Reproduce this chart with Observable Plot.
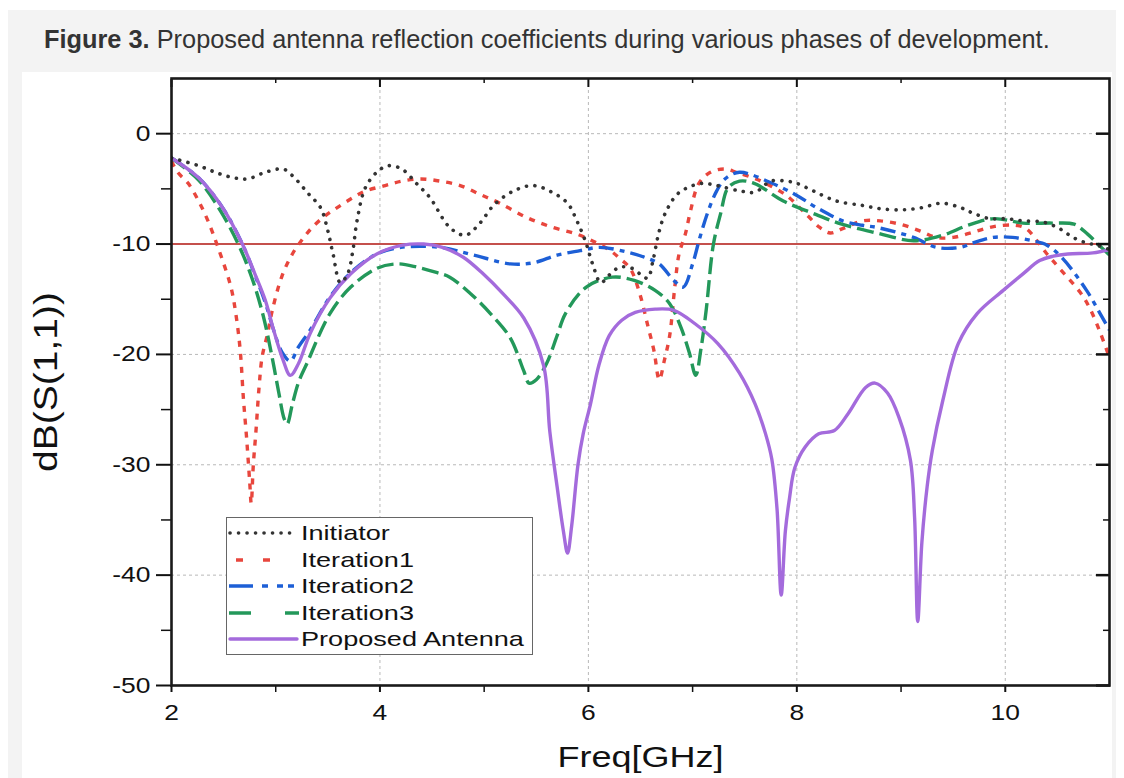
<!DOCTYPE html>
<html>
<head>
<meta charset="utf-8">
<script src="https://cdn.jsdelivr.net/npm/d3@7"></script>
<script src="https://cdn.jsdelivr.net/npm/@observablehq/plot@0.6"></script>
<style>
  html, body { margin: 0; padding: 0; background: #ffffff; }
  body { width: 1124px; height: 778px; position: relative; overflow: hidden; font-family: "Liberation Sans", Arial, sans-serif; }
  #panel { position: absolute; left: 8px; top: 10px; width: 1108px; height: 768px; background: #f3f3f3; }
  #title { position: absolute; left: 44px; top: 24px; font-size: 26px; line-height: 30px; color: #333; white-space: nowrap; transform: scaleX(0.975); transform-origin: left center; }
  #title b { font-weight: bold; }
  #chart { position: absolute; left: 22px; top: 72px; width: 1090px; height: 706px; background: #fff; }
  #legend { position: absolute; left: 226px; top: 517px; width: 305px; height: 134px; border: 1.5px solid #666; background: #fff; padding-top: 2px; box-sizing: content-box; }
  .row { height: 26.5px; display: flex; align-items: center; }
  .row svg { flex: none; }
  .row span { font-size: 21px; color: #111; transform: scaleX(1.29); transform-origin: left center; display: inline-block; white-space: nowrap; margin-left: 2px; }
</style>
</head>
<body>
<div id="panel"></div>
<div id="title"><b>Figure 3.</b> Proposed antenna reflection coefficients during various phases of development.</div>
<div id="chart"></div>
<div id="legend"></div>
<script>
// Return loss |S11| in dB against frequency in GHz for each design stage
const freqInitiator = [2.0, 2.26, 2.45, 2.6, 2.73, 2.9, 3.07, 3.16, 3.31, 3.43, 3.5, 3.55, 3.62, 3.69, 3.74, 3.78, 3.86, 3.98, 4.08, 4.21, 4.35, 4.48, 4.67, 4.82, 4.96, 5.09, 5.28, 5.47, 5.65, 5.8, 5.89, 5.97, 6.04, 6.12, 6.2, 6.3, 6.42, 6.52, 6.57, 6.62, 6.67, 6.72, 6.77, 6.85, 6.95, 7.09, 7.23, 7.46, 7.6, 7.75, 7.9, 8.0, 8.16, 8.38, 8.63, 8.8, 9.02, 9.2, 9.39, 9.57, 9.69, 9.85, 10.01, 10.17, 10.36, 10.52, 10.65, 10.78, 10.88, 11.0];
const s11Initiator = [-2.2, -2.9, -3.6, -4.0, -4.1, -3.5, -3.2, -3.8, -5.4, -6.7, -8.8, -10.9, -13.5, -12.7, -10.6, -7.9, -4.9, -3.4, -2.9, -3.2, -4.5, -5.8, -8.5, -9.2, -8.1, -6.5, -5.2, -4.7, -5.3, -6.3, -7.9, -9.7, -11.8, -13.5, -12.8, -12.1, -12.2, -12.9, -13.1, -11.5, -9.2, -7.6, -6.6, -5.5, -4.9, -4.5, -4.7, -5.2, -5.3, -4.3, -4.3, -4.5, -5.2, -6.1, -6.5, -6.8, -6.9, -6.7, -6.3, -6.7, -7.2, -7.7, -7.7, -7.9, -8.0, -8.6, -9.4, -9.9, -10.1, -10.5];

const freqIteration1 = [2.0, 2.06, 2.16, 2.26, 2.35, 2.45, 2.57, 2.62, 2.66, 2.69, 2.72, 2.75, 2.765, 2.785, 2.81, 2.84, 2.87, 2.92, 2.97, 3.06, 3.16, 3.27, 3.36, 3.48, 3.59, 3.74, 3.86, 4.05, 4.21, 4.39, 4.58, 4.77, 4.96, 5.15, 5.41, 5.66, 5.89, 6.08, 6.21, 6.3, 6.4, 6.49, 6.57, 6.63, 6.68, 6.73, 6.78, 6.83, 6.87, 6.93, 6.98, 7.06, 7.17, 7.31, 7.42, 7.55, 7.68, 7.9, 8.1, 8.22, 8.32, 8.44, 8.63, 8.8, 8.99, 9.18, 9.34, 9.5, 9.7, 9.9, 10.1, 10.2, 10.4, 10.52, 10.72, 10.81, 10.91, 11.0];
const s11Iteration1 = [-2.5, -3.5, -4.5, -6.1, -7.9, -10.4, -13.9, -16.5, -19.7, -24.0, -27.5, -31.5, -33.5, -30.0, -27.0, -23.0, -20.2, -18.2, -15.9, -12.9, -10.9, -9.4, -8.4, -7.4, -6.7, -5.8, -5.2, -4.7, -4.3, -4.1, -4.3, -4.7, -5.5, -6.3, -7.6, -8.5, -9.1, -9.9, -10.6, -11.3, -12.2, -14.4, -17.4, -19.7, -22.3, -20.5, -18.3, -13.8, -10.9, -9.1, -7.0, -4.5, -3.5, -3.2, -3.5, -3.9, -4.4, -5.6, -7.4, -8.5, -9.0, -8.6, -7.9, -7.9, -8.2, -8.8, -9.4, -9.4, -8.9, -8.4, -8.3, -8.6, -10.9, -12.2, -14.4, -15.8, -18.0, -20.3];

const freqIteration2 = [2.0, 2.26, 2.49, 2.68, 2.8, 2.9, 2.98, 3.06, 3.14, 3.22, 3.33, 3.52, 3.72, 3.97, 4.2, 4.58, 4.9, 5.25, 5.47, 5.7, 5.92, 6.11, 6.36, 6.54, 6.68, 6.82, 6.91, 7.0, 7.07, 7.15, 7.23, 7.31, 7.45, 7.74, 8.0, 8.19, 8.44, 8.63, 8.77, 9.12, 9.34, 9.57, 9.69, 9.88, 10.07, 10.26, 10.4, 10.55, 10.78, 10.91, 11.0];
const s11Iteration2 = [-2.2, -4.0, -6.7, -10.0, -12.8, -15.3, -17.8, -19.8, -20.6, -19.3, -17.8, -14.8, -12.6, -10.9, -10.3, -10.3, -11.0, -11.8, -11.7, -11.0, -10.6, -10.3, -10.7, -11.2, -11.8, -13.3, -13.9, -11.8, -9.4, -7.0, -5.2, -4.1, -3.5, -4.4, -5.6, -6.7, -7.9, -8.3, -8.5, -9.4, -10.3, -10.3, -9.9, -9.4, -9.4, -9.7, -10.1, -11.3, -14.2, -16.3, -17.8];

const freqIteration3 = [2.0, 2.26, 2.47, 2.65, 2.78, 2.88, 2.96, 3.03, 3.08, 3.11, 3.16, 3.22, 3.3, 3.52, 3.72, 3.97, 4.17, 4.36, 4.55, 4.67, 4.87, 5.06, 5.25, 5.38, 5.43, 5.5, 5.6, 5.7, 5.78, 5.98, 6.23, 6.44, 6.64, 6.78, 6.89, 6.97, 7.03, 7.08, 7.13, 7.2, 7.27, 7.34, 7.45, 7.59, 7.87, 8.15, 8.43, 8.77, 9.12, 9.4, 9.64, 9.89, 10.17, 10.45, 10.66, 10.79, 10.9, 11.0];
const s11Iteration3 = [-2.2, -4.2, -7.0, -10.2, -13.3, -16.5, -20.0, -23.5, -25.8, -26.3, -24.5, -22.5, -20.8, -16.3, -13.9, -12.2, -11.8, -12.1, -12.6, -13.0, -14.5, -16.3, -18.5, -21.5, -22.6, -22.3, -20.8, -18.3, -16.3, -13.9, -13.0, -13.3, -14.2, -15.4, -17.6, -19.9, -21.9, -19.5, -16.0, -10.0, -7.2, -4.9, -4.3, -4.5, -6.1, -7.2, -8.2, -9.0, -9.7, -9.2, -8.3, -7.7, -8.1, -8.1, -8.2, -9.1, -10.1, -11.0];

const freqProposed = [2.0, 2.26, 2.49, 2.68, 2.8, 2.9, 2.98, 3.07, 3.14, 3.22, 3.33, 3.52, 3.72, 3.97, 4.22, 4.42, 4.6, 4.8, 4.99, 5.18, 5.38, 5.57, 5.63, 5.7, 5.76, 5.8, 5.84, 5.9, 5.95, 6.02, 6.1, 6.2, 6.32, 6.45, 6.64, 6.82, 7.02, 7.24, 7.45, 7.6, 7.7, 7.76, 7.81, 7.85, 7.89, 7.93, 7.98, 8.08, 8.21, 8.36, 8.49, 8.66, 8.75, 8.87, 8.98, 9.09, 9.13, 9.16, 9.2, 9.25, 9.3, 9.4, 9.55, 9.73, 9.98, 10.17, 10.33, 10.46, 10.6, 10.84, 11.0];
const s11Proposed = [-2.2, -4.0, -6.7, -10.0, -12.7, -15.1, -17.8, -20.5, -21.9, -20.8, -18.1, -14.9, -12.7, -10.9, -10.1, -10.0, -10.3, -11.2, -12.7, -14.5, -16.7, -21.0, -27.0, -32.0, -36.0, -38.0, -35.5, -30.0, -27.2, -24.5, -21.0, -18.3, -16.9, -16.2, -15.9, -16.0, -17.2, -19.0, -21.7, -24.5, -27.2, -29.5, -34.0, -41.8, -36.0, -33.0, -30.3, -28.4, -27.2, -26.9, -25.4, -23.0, -22.6, -23.5, -25.7, -29.6, -34.8, -44.2, -37.0, -32.0, -28.7, -24.2, -19.0, -16.3, -14.2, -12.7, -11.5, -11.1, -10.9, -10.8, -10.5];

// Axis ticks and the -10 dB matching threshold
const xTicks = [2, 4, 6, 8, 10];
const xMinorTicks = [3, 5, 7, 9];
const yTicks = [0, -10, -20, -30, -40, -50];
const yMinorTicks = [-5, -15, -25, -35, -45];
const xGridTicks = [4, 6, 8, 10];
const yGridTicks = [0, -10, -20, -30, -40];
const threshold = [-10];

const seriesNames = ["Initiator", "Iteration1", "Iteration2", "Iteration3", "Proposed Antenna"];
const seriesFreq = [freqInitiator, freqIteration1, freqIteration2, freqIteration3, freqProposed];
const seriesS11 = [s11Initiator, s11Iteration1, s11Iteration2, s11Iteration3, s11Proposed];

// Line styling per design stage (legend samples use their own dash spacing)
const lineStyle = {
  "Initiator":        {stroke: "#333333", strokeWidth: 3.6, dash: "0.1 8.4", cap: "round", key: {from: 3, to: 68, dash: "0.1 8.4"}},
  "Iteration1":       {stroke: "#e8463d", strokeWidth: 3.4, dash: "6 7", cap: "butt", key: {from: 9, to: 43, dash: "7 20"}},
  "Iteration2":       {stroke: "#1d5fd6", strokeWidth: 3.4, dash: "15 6 5 6", cap: "butt", key: {from: 2, to: 72, dash: "24 9 6 9 6 5 6"}},
  "Iteration3":       {stroke: "#23985a", strokeWidth: 3.4, dash: "17 6", cap: "butt", key: {from: 2, to: 72, dash: "22 34"}},
  "Proposed Antenna": {stroke: "#a46bdc", strokeWidth: 3.4, dash: null, cap: "round", key: {from: 3, to: 70, dash: null}}
};

const rows = seriesNames.map((name, i) =>
  seriesFreq[i].map((f, j) => ({stage: name, freq: f, s11: seriesS11[i][j]}))
);

const drawOrder = [1, 2, 3, 4, 0];

const lineMarks = drawOrder.map(i => {
  const st = lineStyle[seriesNames[i]];
  return Plot.line(rows[i], {
    x: "freq", y: "s11",
    stroke: st.stroke, strokeWidth: st.strokeWidth,
    strokeDasharray: st.dash, strokeLinecap: st.cap, strokeLinejoin: "round",
    curve: "catmull-rom", clip: true
  });
});

const plainNumber = d => String(d);

const chart = Plot.plot({
  width: 1090,
  height: 706,
  marginLeft: 149,
  marginRight: 3,
  marginTop: 6,
  marginBottom: 93,
  x: {domain: [2, 11]},
  y: {domain: [-50, 5]},
  style: {background: "#ffffff", fontFamily: "'Liberation Sans', Arial, sans-serif", color: "#111"},
  marks: [
    Plot.gridX(xGridTicks, {stroke: "#b8b8b8", strokeOpacity: 1, strokeWidth: 1, strokeDasharray: "3 3"}),
    Plot.gridY(yGridTicks, {stroke: "#b8b8b8", strokeOpacity: 1, strokeWidth: 1, strokeDasharray: "3 3"}),
    Plot.ruleY(threshold, {stroke: "#c4504c", strokeWidth: 2}),
    ...lineMarks,
    // bottom and left axes: ticks outside, with labels
    Plot.axisX(xTicks, {anchor: "bottom", tickSize: 7, tickPadding: 12, fontSize: 22, strokeWidth: 2, tickFormat: plainNumber, label: null}),
    Plot.axisX(xMinorTicks, {anchor: "bottom", tickSize: 7, strokeWidth: 1.5, tickFormat: () => "", label: null}),
    Plot.axisY(yTicks, {anchor: "left", tickSize: 15, tickPadding: 6, fontSize: 22, strokeWidth: 2, tickFormat: plainNumber, label: null}),
    Plot.axisY(yMinorTicks, {anchor: "left", tickSize: 10, strokeWidth: 1.5, tickFormat: () => "", label: null}),
    // top and right axes: ticks pointing inward, no labels
    Plot.axisX(xTicks, {anchor: "top", tickSize: 8, dy: 8, strokeWidth: 2, tickFormat: () => "", label: null}),
    Plot.axisX(xMinorTicks, {anchor: "top", tickSize: 4, dy: 4, strokeWidth: 1.5, tickFormat: () => "", label: null}),
    Plot.axisY(yTicks, {anchor: "right", tickSize: 14, dx: -14, strokeWidth: 2.5, tickFormat: () => "", label: null}),
    Plot.axisY(yMinorTicks, {anchor: "right", tickSize: 7, dx: -7, strokeWidth: 1.5, tickFormat: () => "", label: null}),
    Plot.frame({stroke: "#1a1a1a", strokeWidth: 2.6}),
    // axis titles
    Plot.text(["Freq[GHz]"], {frameAnchor: "bottom", lineAnchor: "top", dy: 60, fontSize: 30, fill: "#111"}),
    Plot.text(["dB(S(1,1))"], {frameAnchor: "left", textAnchor: "middle", rotate: -90, dx: -125, fontSize: 34, fill: "#111"})
  ]
});

document.getElementById("chart").append(chart);

// The figure's lettering is set slightly wide; widen glyphs along each line of text
function widenText(t, factor, length) {
  const w = t.getComputedTextLength();
  if (w > 0) {
    t.setAttribute("textLength", (length || w * factor).toFixed(1));
    t.setAttribute("lengthAdjust", "spacingAndGlyphs");
  }
}
chart.querySelectorAll('g[aria-label="x-axis tick label"] text, g[aria-label="y-axis tick label"] text')
  .forEach(t => widenText(t, 1.2));
chart.querySelectorAll('g[aria-label="text"] text').forEach(t => {
  if (t.textContent === "Freq[GHz]") widenText(t, 1.2);
  if (t.textContent === "dB(S(1,1))") widenText(t, 1, 180);
});

// Legend: a line sample and name per design stage
const legend = document.getElementById("legend");
seriesNames.forEach(name => {
  const st = lineStyle[name];
  const row = document.createElement("div");
  row.className = "row";
  const svg = d3.create("svg").attr("width", 72).attr("height", 20);
  svg.append("line")
    .attr("x1", st.key.from).attr("x2", st.key.to).attr("y1", 10).attr("y2", 10)
    .attr("stroke", st.stroke).attr("stroke-width", st.strokeWidth)
    .attr("stroke-dasharray", st.key.dash)
    .attr("stroke-linecap", st.cap);
  row.append(svg.node());
  const label = document.createElement("span");
  label.textContent = name;
  row.append(label);
  legend.append(row);
});
</script>
</body>
</html>
